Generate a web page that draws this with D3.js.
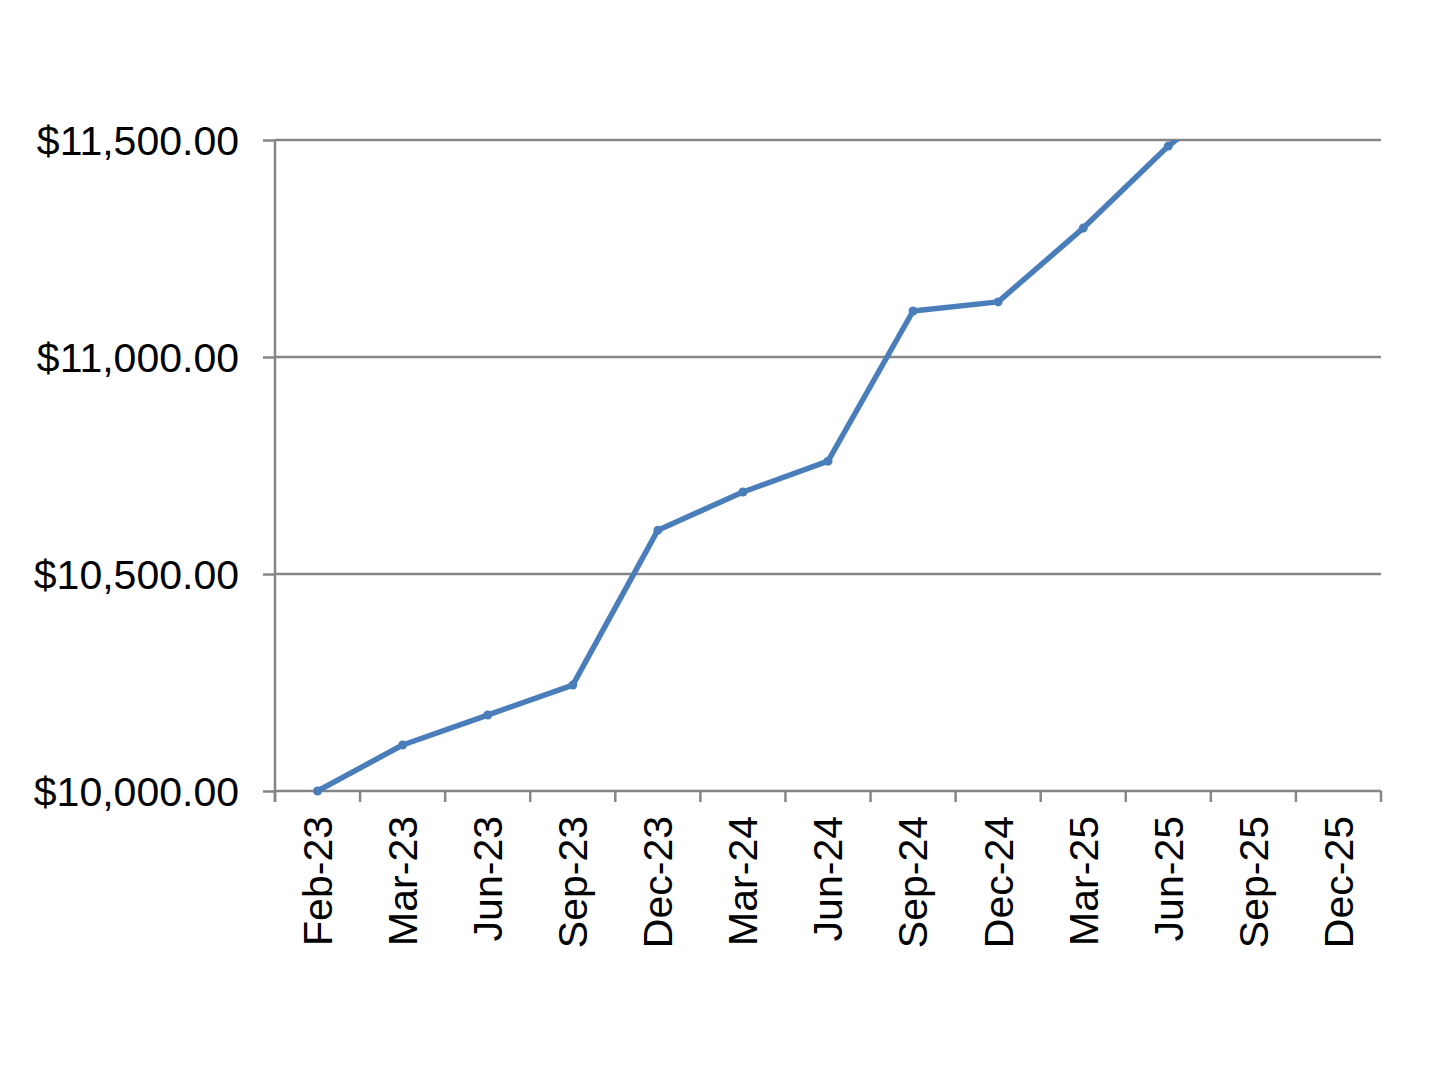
<!DOCTYPE html>
<html>
<head>
<meta charset="utf-8">
<script src="https://cdn.jsdelivr.net/npm/d3@7"></script>
<style>
  body { margin: 0; background: #fff; }
  text { font-family: "Liberation Sans", Arial, sans-serif; fill: #000; }
</style>
</head>
<body>
<svg id="chart" width="1450" height="1065"></svg>
<script>
// data
const categories = ['Feb-23', 'Mar-23', 'Jun-23', 'Sep-23', 'Dec-23', 'Mar-24', 'Jun-24',
  'Sep-24', 'Dec-24', 'Mar-25', 'Jun-25', 'Sep-25', 'Dec-25'];
const values = [10000, 10106, 10175, 10244, 10601, 10689, 10760,
  11106, 11127, 11297, 11486, 11640, null];
const yTicks = [10000, 10500, 11000, 11500];

const svg = d3.select('#chart');
const margin = { top: 140, right: 69, bottom: 274, left: 275 };
const width = +svg.attr('width');
const height = +svg.attr('height');
const innerWidth = width - margin.left - margin.right;
const innerHeight = height - margin.top - margin.bottom;

const gridColour = '#868686';
const lineColour = '#4a7ebb';

const x = d3.scaleBand().domain(categories).range([0, innerWidth]).padding(0);
const y = d3.scaleLinear().domain([10000, 11500]).range([innerHeight, 0]);
const cx = d => x(d) + x.bandwidth() / 2;

const g = svg.append('g').attr('transform', `translate(${margin.left},${margin.top})`);

g.append('clipPath').attr('id', 'plot-clip')
  .append('rect')
  .attr('x', 0).attr('y', 0)
  .attr('width', innerWidth).attr('height', innerHeight);

// gridlines
g.selectAll('.grid')
  .data(yTicks.filter(t => t > 10000))
  .join('line')
    .attr('class', 'grid')
    .attr('x1', 0).attr('x2', innerWidth)
    .attr('y1', d => y(d)).attr('y2', d => y(d))
    .attr('stroke', gridColour).attr('stroke-width', 2.5);

// y axis
const yAxis = d3.axisLeft(y)
  .tickValues(yTicks)
  .tickSize(12)
  .tickPadding(24)
  .tickFormat(d => '$' + d3.format(',.2f')(d));
const yAxisG = g.append('g').call(yAxis);
yAxisG.select('.domain').remove();
yAxisG.selectAll('.tick line').attr('stroke', gridColour).attr('stroke-width', 2.5);
yAxisG.selectAll('.tick text').style('font-size', '41px').attr('dy', '0.35em');
g.append('line')
  .attr('x1', 0).attr('x2', 0)
  .attr('y1', 0).attr('y2', innerHeight + 11)
  .attr('stroke', gridColour).attr('stroke-width', 2.5);

// x axis
g.append('line')
  .attr('x1', 0).attr('x2', innerWidth)
  .attr('y1', innerHeight).attr('y2', innerHeight)
  .attr('stroke', gridColour).attr('stroke-width', 2.5);
const boundaries = categories.map(c => x(c)).concat([innerWidth]);
g.selectAll('.xtick')
  .data(boundaries)
  .join('line')
    .attr('class', 'xtick')
    .attr('x1', d => d).attr('x2', d => d)
    .attr('y1', innerHeight).attr('y2', innerHeight + 11)
    .attr('stroke', gridColour).attr('stroke-width', 2.5);

g.selectAll('.xlabel')
  .data(categories)
  .join('text')
    .attr('class', 'xlabel')
    .attr('transform', d => `translate(${cx(d)},${innerHeight + 25}) rotate(-90)`)
    .attr('text-anchor', 'end')
    .attr('dy', '0.35em')
    .style('font-size', '41px')
    .text(d => d);

// line + markers
const points = categories.map((c, i) => ({ c, v: values[i] })).filter(d => d.v != null);
const line = d3.line().x(d => cx(d.c)).y(d => y(d.v));

g.append('path')
  .datum(points)
  .attr('clip-path', 'url(#plot-clip)')
  .attr('d', line)
  .attr('fill', 'none')
  .attr('stroke', lineColour)
  .attr('stroke-width', 5.5)
  .attr('stroke-linejoin', 'round');

g.selectAll('.marker')
  .data(points.filter(d => d.v <= 11500))
  .join('circle')
    .attr('class', 'marker')
    .attr('cx', d => cx(d.c))
    .attr('cy', d => y(d.v))
    .attr('r', 4.5)
    .attr('fill', lineColour);
</script>
</body>
</html>
